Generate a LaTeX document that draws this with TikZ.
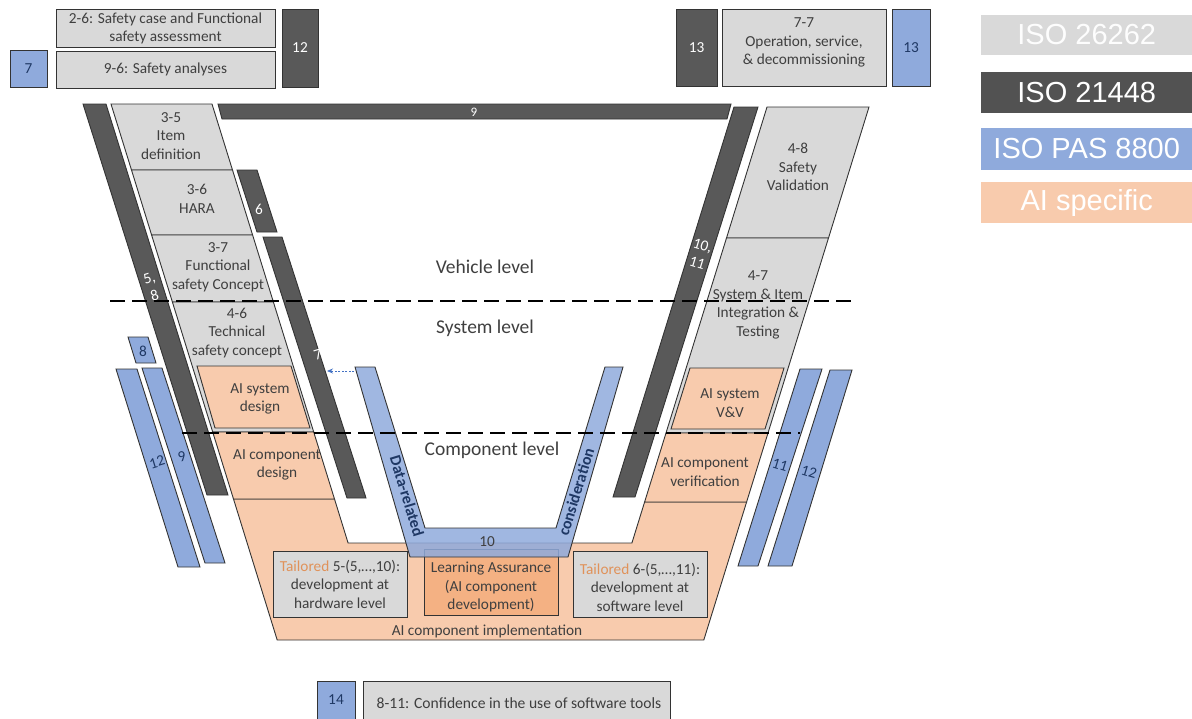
\documentclass[tikz,border=0pt]{standalone}
\usepackage{fontspec}
\setmainfont{Carlito}
\newfontfamily\legendfont{Liberation Sans}
\usetikzlibrary{arrows.meta}

\definecolor{isogray}{HTML}{D9D9D9}
\definecolor{isodark}{HTML}{595959}
\definecolor{isoblue}{HTML}{8FAADC}
\definecolor{aiorange}{HTML}{F8CBAD}
\definecolor{laorange}{HTML}{F4B183}
\definecolor{edgecol}{HTML}{333333}
\definecolor{txtcol}{HTML}{3F3F3F}
\definecolor{navycol}{HTML}{1F3864}
\definecolor{tailorcol}{HTML}{E0925A}
\definecolor{linkblue}{HTML}{4472C4}

\tikzset{
  part/.style={draw=edgecol, line width=0.9pt, line join=miter},
  graypart/.style={part, fill=isogray},
  aipart/.style={part, fill=aiorange},
  darkbar/.style={part, fill=isodark},
  bluebar/.style={part, fill=isoblue},
  lbl/.style={text=txtcol, font=\fontsize{15.3}{18.5}\selectfont, align=center, inner sep=0pt},
  wlbl/.style={lbl, text=white},
  nlbl/.style={lbl, text=navycol},
  levlbl/.style={lbl, font=\fontsize{19.5}{22}\selectfont},
  sidelbl/.style={lbl, text=navycol, font=\bfseries\fontsize{16}{18}\selectfont},
  levelline/.style={black, line width=1.9pt, dash pattern=on 15pt off 7pt},
  legendbox/.style={inner sep=0pt, minimum width=211pt, anchor=west,
    font=\legendfont\fontsize{29}{30}\selectfont, text=white}
}

\begin{document}
\begin{tikzpicture}[x=1pt, y=-1pt]
\useasboundingbox (0,0) rectangle (1192,718);
\clip (0,0) rectangle (1192,718);

% ---- top boxes ----
\node[graypart, minimum width=219pt, minimum height=38pt, inner sep=0pt] (sc) at (165.5,28) {};
\node[lbl] (sct) at (165.5,28.5) {2-6: Safety case and Functional\\safety assessment};
\node[graypart, minimum width=219pt, minimum height=37pt, inner sep=0pt] (sa) at (165.5,69.5) {};
\node[lbl] (sat) at (165.5,69) {9-6: Safety analyses};
\node[bluebar, minimum width=37pt, minimum height=37pt, inner sep=0pt] (b7) at (28.5,68.5) {};
\node[nlbl] (b7t) at (28.5,68.5) {7};
\node[darkbar, minimum width=36pt, minimum height=78pt, inner sep=0pt] (d12) at (300,48) {};
\node[wlbl] (d12t) at (300,48) {12};

\node[darkbar, minimum width=41pt, minimum height=77pt, inner sep=0pt] (d13) at (696.5,47.5) {};
\node[wlbl] (d13t) at (696.5,47.5) {13};
\node[graypart, minimum width=164pt, minimum height=77pt, inner sep=0pt] (op) at (804,47.5) {};
\node[lbl] (opt) at (804,42.5) {7-7\\Operation, service,\\\& decommissioning};
\node[bluebar, minimum width=38pt, minimum height=77pt, inner sep=0pt] (b13) at (911,47.5) {};
\node[nlbl] (b13t) at (911,47.5) {13};

% ---- AI component implementation (bottom of the V) ----
\path[aipart] (233.5,499) -- (334.5,499) -- (348.1,543) -- (631.9,543)
  -- (644.6,502) -- (746.6,502) -- (703.8,640) -- (277.2,640) -- cycle;

% ---- left branch ----
\path[graypart] (111,104) -- (212,104) -- (232.5,170) -- (131.5,170) -- cycle;
\path[graypart] (131.5,170) -- (232.5,170) -- (252.6,235) -- (151.6,235) -- cycle;
\path[graypart] (151.6,235) -- (252.6,235) -- (273.4,302) -- (172.4,302) -- cycle;
\path[graypart] (172.4,302) -- (273.4,302) -- (313.7,432) -- (212.7,432) -- cycle;
\path[aipart] (197,366) -- (291,366) -- (310,428) -- (215,428) -- cycle;
\path[aipart] (212.7,432) -- (313.7,432) -- (334.5,499) -- (233.5,499) -- cycle;

% ---- right branch ----
\path[graypart] (767,107) -- (869,107) -- (828.5,238) -- (726.5,238) -- cycle;
\path[graypart] (726.5,238) -- (828.5,238) -- (768,433) -- (666,433) -- cycle;
\path[aipart] (690,368) -- (784,368) -- (765,429) -- (671,429) -- cycle;
\path[aipart] (666,433) -- (768,433) -- (746.6,502) -- (644.6,502) -- cycle;

% ---- ISO 21448 bars ----
\path[darkbar] (83,104) -- (106,104) -- (228,495) -- (207,495) -- cycle;
\path[darkbar] (237,170) -- (257,170) -- (277,232) -- (257,232) -- cycle;
\path[darkbar] (263,237) -- (282,237) -- (366,498) -- (347,498) -- cycle;
\path[darkbar] (218,104) -- (731,104) -- (727,119) -- (222,119) -- cycle;
\path[darkbar] (734,107) -- (758,107) -- (635,497) -- (613,497) -- cycle;

% ---- ISO PAS 8800 bars ----
\path[bluebar] (128,337) -- (148,337) -- (156,363) -- (136,363) -- cycle;
\path[bluebar] (142,368) -- (162,368) -- (225,563) -- (205,563) -- cycle;
\path[bluebar] (116,369) -- (137,369) -- (200,567) -- (178,567) -- cycle;
\path[bluebar] (800,369) -- (822,369) -- (758,566) -- (738,566) -- cycle;
\path[bluebar] (830,370) -- (852,370) -- (792,566) -- (768,566) -- cycle;

% ---- implementation boxes ----
\node[graypart, minimum width=134pt, minimum height=66pt, inner sep=0pt] (hw) at (340,584) {};
\node[part, fill=laorange, minimum width=134pt, minimum height=66pt, inner sep=0pt] (la) at (491,582) {};
\node[graypart, minimum width=134pt, minimum height=66pt, inner sep=0pt] (sw) at (640,584) {};

% ---- data-related consideration ----
\path[part, fill=isoblue, fill opacity=0.85] (355,367) -- (375,367) -- (425,528) -- (556,528)
  -- (605,367) -- (623,367) -- (568,557) -- (410,557) -- cycle;

% ---- labels ----
\node[lbl] (l35) at (171,136) {3-5\\Item\\definition};
\node[lbl] (l36) at (197,199) {3-6\\HARA};
\node[lbl] (l37) at (218,267) {3-7\\Functional\\safety Concept};
\node[lbl] (l46) at (237,333) {4-6\\Technical\\safety concept};
\node[lbl] (laisd) at (260,399) {AI system\\design};
\node[lbl] (laicd) at (277,465) {AI component\\design};
\node[lbl] (l48) at (798,167) {4-8\\Safety\\Validation};
\node[lbl] (l47) at (758,305) {4-7\\System \& Item\\Integration \&\\Testing};
\node[lbl] (laivv) at (730,403) {AI system\\V\&V};
\node[lbl] (laicv) at (705,472) {AI component\\verification};
\node[lbl] (lhw) at (340,584) {{\color{tailorcol}Tailored} 5-(5,…,10):\\development at\\hardware level};
\node[lbl] (lla) at (491,587) {Learning Assurance\\(AI component\\development)};
\node[lbl] (lsw) at (640,587) {{\color{tailorcol}Tailored} 6-(5,…,11):\\development at\\software level};
\node[lbl] (limp) at (487,631) {AI component implementation};

\node[levlbl] (veh) at (485,267) {Vehicle level};
\node[levlbl] (sys) at (485,328) {System level};
\node[levlbl] (cmp) at (492,450) {Component level};

\node[wlbl, rotate=17] (t58) at (152,287) {5,\\8};
\node[wlbl] (t6) at (259,209) {6};
\node[wlbl, rotate=17] (t7) at (318,355) {7};
\node[wlbl, font=\fontsize{13}{15}\selectfont] (t9) at (474,112) {9};
\node[wlbl, rotate=-17] (t1011) at (700,254) {10,\\11};
\node[nlbl] (tb8) at (143,351) {8};
\node[nlbl, rotate=17] (tb9) at (182,457) {9};
\node[nlbl, rotate=17] (tb12) at (157,462) {12};
\node[nlbl, rotate=-17] (tb11) at (780,465) {11};
\node[nlbl, rotate=-17] (tb12r) at (809,472) {12};
\node[lbl] (t10) at (487,542) {10};
\node[sidelbl, rotate=-73] (tdr) at (407,496) {Data-related};
\node[sidelbl, rotate=73] (tcons) at (576,492) {consideration};

% ---- level separators ----
\coordinate (vs0) at (110,301);
\coordinate (vs1) at (852,301);
\coordinate (sc0) at (182,433);
\coordinate (sc1) at (800,433);
\draw[levelline] (vs0) -- (vs1);
\draw[levelline] (sc0) -- (sc1);

% ---- data link to the ISO 21448 bar ----
\coordinate (dsrc) at (354,371);
\coordinate (dtgt) at (327,371);
\draw[linkblue, line width=0.8pt, dash pattern=on 2pt off 1.5pt, -{Stealth[length=6pt,width=5pt]}] (dsrc) -- (dtgt);

% ---- tool confidence ----
\node[bluebar, minimum width=38pt, minimum height=50pt, inner sep=0pt, anchor=north west] (b14) at (317,681) {};
\node[nlbl] (b14t) at (336,700) {14};
\node[graypart, minimum width=307pt, minimum height=50pt, inner sep=0pt, anchor=north west] (tc) at (363,681) {};
\node[lbl, font=\fontsize{15.6}{18}\selectfont] (tct) at (519,703) {8-11: Confidence in the use of software tools};

% ---- legend ----
\node[legendbox, fill=isogray, minimum height=40pt, text=white!95!isogray] (lg1) at (981,35) {ISO 26262};
\node[legendbox, fill=isodark!92!black, minimum height=41pt] (lg2) at (981,92.5) {ISO 21448};
\node[legendbox, fill=isoblue, minimum height=42pt] (lg3) at (981,149) {ISO PAS 8800};
\node[legendbox, fill=aiorange, minimum height=41pt] (lg4) at (981,202.5) {AI specific};
\end{tikzpicture}
\end{document}
